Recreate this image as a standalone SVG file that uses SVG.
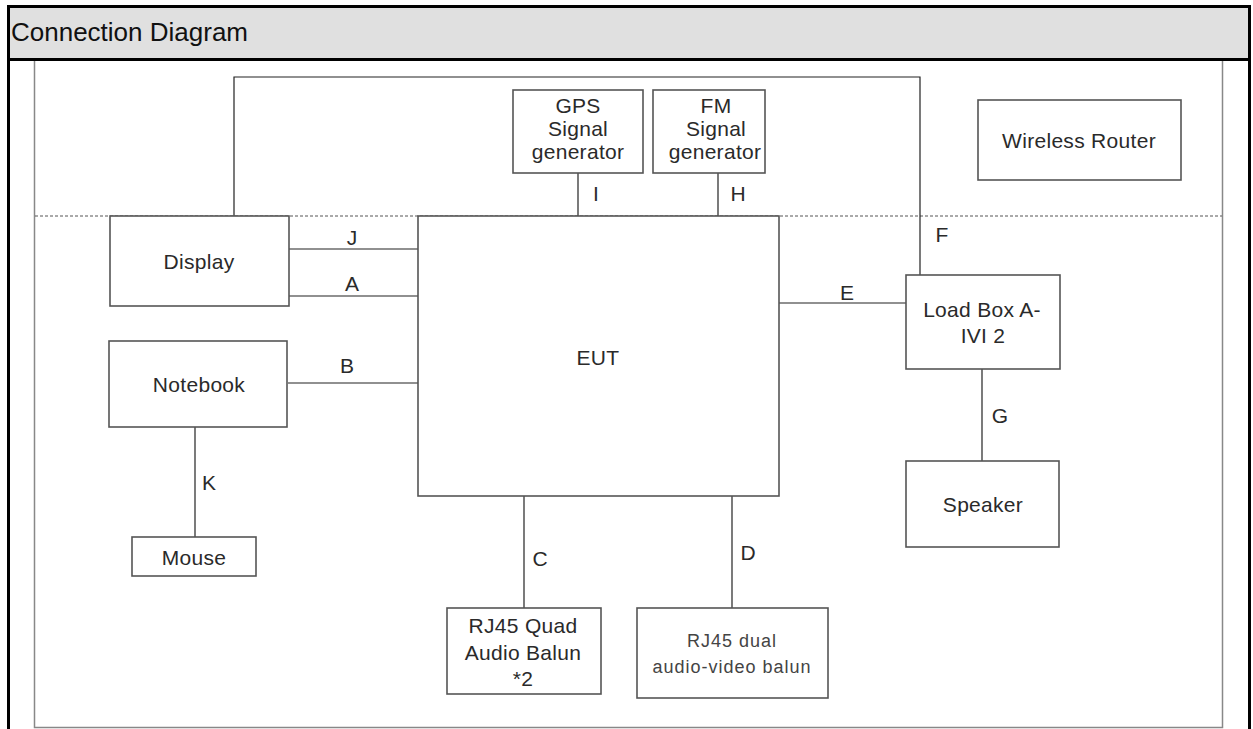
<svg xmlns="http://www.w3.org/2000/svg" width="1253" height="729" viewBox="0 0 1253 729">
<style>
.box{fill:#fff;stroke:#555;stroke-width:1.6}
.wire{fill:none;stroke:#222;stroke-width:1.2}
.t{font-family:"Liberation Sans",Arial,sans-serif;font-size:21px;fill:#2a2a2a;text-anchor:middle;letter-spacing:0.3px}
.l{font-family:"Liberation Sans",Arial,sans-serif;font-size:21px;fill:#2a2a2a}
.s{font-family:"Liberation Sans",Arial,sans-serif;font-size:18px;fill:#444;text-anchor:middle;letter-spacing:1px}
</style>
<rect x="0" y="0" width="1253" height="729" fill="#fff"/>
<rect x="8.5" y="6.5" width="1241" height="53" fill="#e0e0e0"/>
<path d="M8.5,729 V6.5 H1249.5 V729" fill="none" stroke="#000" stroke-width="3"/>
<line x1="8.5" y1="59.5" x2="1249.5" y2="59.5" stroke="#000" stroke-width="3"/>
<text x="11" y="41" font-family="Liberation Sans,Arial,sans-serif" font-size="26" fill="#111">Connection Diagram</text>
<path d="M34.5,61 V727.5 H1222.5 V61" fill="none" stroke="#888" stroke-width="1.5"/>
<line x1="35" y1="216" x2="1222" y2="216" stroke="#555" stroke-width="1" stroke-dasharray="3,2"/>

<g id="connectors">
<polyline class="wire" points="234,216 234,77 920,77 920,275"/>
<line class="wire" x1="289" y1="249" x2="418" y2="249"/>
<line class="wire" x1="289" y1="296" x2="418" y2="296"/>
<line class="wire" x1="288" y1="383" x2="418" y2="383"/>
<line class="wire" x1="779" y1="303" x2="906" y2="303"/>
<line class="wire" x1="578" y1="173" x2="578" y2="216"/>
<line class="wire" x1="718" y1="173" x2="718" y2="216"/>
<line class="wire" x1="982" y1="369" x2="982" y2="461"/>
<line class="wire" x1="195" y1="427" x2="195" y2="537"/>
<line class="wire" x1="524" y1="496" x2="524" y2="608"/>
<line class="wire" x1="732" y1="496" x2="732" y2="608"/>
<text class="l" x="352" y="245" text-anchor="middle">J</text>
<text class="l" x="352" y="291" text-anchor="middle">A</text>
<text class="l" x="347" y="373" text-anchor="middle">B</text>
<text class="l" x="847" y="300" text-anchor="middle">E</text>
<text class="l" x="942" y="242" text-anchor="middle">F</text>
<text class="l" x="1000" y="423" text-anchor="middle">G</text>
<text class="l" x="738" y="201" text-anchor="middle">H</text>
<text class="l" x="596" y="201" text-anchor="middle">I</text>
<text class="l" x="209" y="490" text-anchor="middle">K</text>
<text class="l" x="540" y="566" text-anchor="middle">C</text>
<text class="l" x="748" y="560" text-anchor="middle">D</text>
</g>

<g id="gps"><rect class="box" x="513" y="90" width="130" height="83"/>
<text class="t" x="578" y="113">GPS</text><text class="t" x="578" y="136">Signal</text><text class="t" x="578" y="159">generator</text></g>
<g id="fm"><rect class="box" x="653" y="90" width="112" height="83"/>
<text class="t" x="716" y="113">FM</text><text class="t" x="716" y="136">Signal</text><text class="t" x="715" y="159" font-size="20" letter-spacing="0">generator</text></g>
<g id="router"><rect class="box" x="978" y="100" width="203" height="80"/>
<text class="t" x="1079" y="148">Wireless Router</text></g>
<g id="display"><rect class="box" x="110" y="216" width="179" height="90"/>
<text class="t" x="199" y="269">Display</text></g>
<g id="notebook"><rect class="box" x="109" y="341" width="178" height="86"/>
<text class="t" x="199" y="392">Notebook</text></g>
<g id="mouse"><rect class="box" x="132" y="537" width="124" height="39"/>
<text class="t" x="194" y="565">Mouse</text></g>
<g id="eut"><rect class="box" x="418" y="216" width="361" height="280"/>
<text class="t" x="598" y="365">EUT</text></g>
<g id="loadbox"><rect class="box" x="906" y="275" width="154" height="94"/>
<text class="t" x="982" y="317">Load Box A-</text><text class="t" x="983" y="343">IVI 2</text></g>
<g id="speaker"><rect class="box" x="906" y="461" width="153" height="86"/>
<text class="t" x="983" y="512">Speaker</text></g>
<g id="quad"><rect class="box" x="447" y="608" width="154" height="86"/>
<text class="t" x="523" y="633">RJ45 Quad</text><text class="t" x="523" y="660">Audio Balun</text><text class="t" x="523" y="686">*2</text></g>
<g id="dual"><rect class="box" x="637" y="608" width="191" height="90"/>
<text class="s" x="732" y="647">RJ45 dual</text><text class="s" x="732" y="673">audio-video balun</text></g>
</svg>
